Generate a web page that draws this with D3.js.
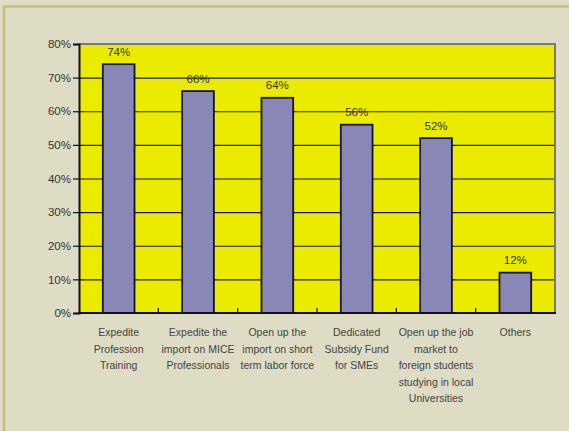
<!DOCTYPE html>
<html>
<head>
<meta charset="utf-8">
<script src="https://cdn.jsdelivr.net/npm/d3@7"></script>
<style>
  body { margin: 0; background: #dedcc5; }
  svg { display: block; font-family: "Liberation Sans", Arial, sans-serif; }
</style>
</head>
<body>
<div id="chart"></div>
<script>
// chart data
var categories = [
  ["Expedite", "Profession", "Training"],
  ["Expedite the", "import on MICE", "Professionals"],
  ["Open up the", "import on short", "term labor force"],
  ["Dedicated", "Subsidy Fund", "for SMEs"],
  ["Open up the job", "market to", "foreign students", "studying in local", "Universities"],
  ["Others"]
];
var values = [74, 66, 64, 56, 52, 12];
var yTicks = [0, 10, 20, 30, 40, 50, 60, 70, 80];

function init() {
  var w = 569;
  var h = 431;
  var left = 79, right = 555, top = 44, bottom = 313;

  var svg = d3.select("#chart")
    .append("svg")
    .attr("width", w)
    .attr("height", h);

  // background and outer frame
  svg.append("rect")
    .attr("width", w)
    .attr("height", h)
    .attr("fill", "#dedcc5");
  svg.append("rect")
    .attr("x", 4)
    .attr("y", 6.5)
    .attr("width", 700)
    .attr("height", 600)
    .attr("fill", "none")
    .attr("stroke", "#c6bf78")
    .attr("stroke-width", 2.5);

  var x = d3.scaleBand()
    .domain(d3.range(categories.length))
    .range([left, right])
    .padding(0);

  var y = d3.scaleLinear()
    .domain([0, 80])
    .range([bottom, top]);

  // plot area
  svg.append("rect")
    .attr("x", left)
    .attr("y", top)
    .attr("width", right - left)
    .attr("height", bottom - top)
    .attr("fill", "#ebeb00");

  // gridlines
  svg.append("g")
    .attr("transform", "translate(" + left + ",0)")
    .call(d3.axisLeft(y).tickValues(yTicks.slice(1, -1)).tickSize(-(right - left)).tickFormat(""))
    .call(function (g) { g.select(".domain").remove(); })
    .selectAll("line")
    .attr("stroke", "#1a1a1a")
    .attr("stroke-width", 1.2);

  // top and right border (grey)
  svg.append("path")
    .attr("d", "M" + left + "," + top + "H" + right + "V" + bottom)
    .attr("fill", "none")
    .attr("stroke", "#7a7a7a")
    .attr("stroke-width", 2);

  // bars
  var bw = x.bandwidth();
  svg.selectAll("rect.bar")
    .data(values)
    .enter()
    .append("rect")
    .attr("class", "bar")
    .attr("x", function (d, i) { return x(i) + bw * 0.3; })
    .attr("y", function (d) { return y(d); })
    .attr("width", bw * 0.4)
    .attr("height", function (d) { return y(0) - y(d); })
    .attr("fill", "#8986b8")
    .attr("stroke", "#151515")
    .attr("stroke-width", 1.8);

  // value labels
  svg.selectAll("text.val")
    .data(values)
    .enter()
    .append("text")
    .attr("class", "val")
    .attr("x", function (d, i) { return x(i) + bw / 2; })
    .attr("y", function (d) { return y(d) - 8.5; })
    .attr("text-anchor", "middle")
    .style("font-size", "11.5px")
    .style("fill", "#333")
    .text(function (d) { return d + "%"; });

  // y axis
  var yAxis = svg.append("g")
    .attr("transform", "translate(" + left + ",0)")
    .call(d3.axisLeft(y).tickValues(yTicks).tickSize(6).tickPadding(2).tickFormat(function (d) { return d + "%"; }));
  yAxis.select(".domain")
    .attr("stroke", "#111")
    .attr("stroke-width", 2);
  yAxis.selectAll("line")
    .attr("stroke", "#111")
    .attr("stroke-width", 1.2);
  yAxis.selectAll("text")
    .style("font-size", "11.5px")
    .style("font-family", "'Liberation Sans', Arial, sans-serif")
    .style("fill", "#333");

  // x axis with inner ticks at category boundaries
  var boundaries = d3.range(1, categories.length).map(function (i) { return x(i); });
  svg.selectAll("line.xtick")
    .data(boundaries)
    .enter()
    .append("line")
    .attr("class", "xtick")
    .attr("x1", function (d) { return d; })
    .attr("x2", function (d) { return d; })
    .attr("y1", bottom)
    .attr("y2", bottom - 5)
    .attr("stroke", "#111")
    .attr("stroke-width", 1.2);
  svg.append("line")
    .attr("x1", left - 1)
    .attr("x2", right + 1)
    .attr("y1", bottom)
    .attr("y2", bottom)
    .attr("stroke", "#111")
    .attr("stroke-width", 2);

  // category labels
  var labels = svg.selectAll("text.cat")
    .data(categories)
    .enter()
    .append("text")
    .attr("class", "cat")
    .attr("text-anchor", "middle")
    .style("font-size", "10.5px")
    .style("fill", "#444");
  labels.each(function (lines, i) {
    var t = d3.select(this);
    lines.forEach(function (line, j) {
      t.append("tspan")
        .attr("x", x(i) + bw / 2)
        .attr("y", 336 + j * 16.5)
        .text(line);
    });
  });
}
window.onload = init;
</script>
</body>
</html>
